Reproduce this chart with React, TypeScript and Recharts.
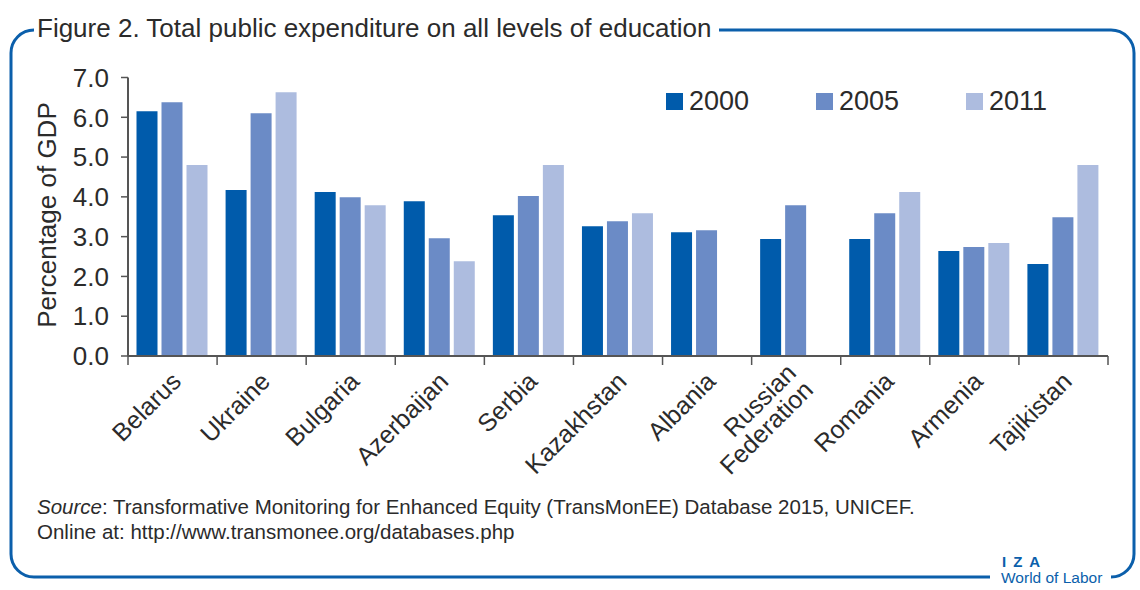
import React from "react";
import { BarChart, Bar, XAxis, YAxis, Legend } from "recharts";

const countries = [
  "Belarus",
  "Ukraine",
  "Bulgaria",
  "Azerbaijan",
  "Serbia",
  "Kazakhstan",
  "Albania",
  "Russian\nFederation",
  "Romania",
  "Armenia",
  "Tajikistan",
];
const values2000 = [6.15, 4.17, 4.12, 3.89, 3.54, 3.26, 3.11, 2.94, 2.94, 2.64, 2.31];
const values2005 = [6.38, 6.1, 3.99, 2.96, 4.02, 3.39, 3.16, 3.79, 3.59, 2.74, 3.49];
const values2011: (number | null)[] = [4.8, 6.63, 3.79, 2.38, 4.8, 3.59, null, null, 4.12, 2.84, 4.8];
const seriesNames = ["2000", "2005", "2011"];
const yTicks = [0, 1, 2, 3, 4, 5, 6, 7];

const data = countries.map((c, i) => ({
  country: c,
  y2000: values2000[i],
  y2005: values2005[i],
  y2011: values2011[i],
}));

const FONT = "'Liberation Sans', Arial, sans-serif";
const TEXT = "#2b2b2b";
const AXIS = "#555555";
const FRAME = "#0b5fab";
const COLORS = ["#005bab", "#6b8bc6", "#adbcdf"];

const XTick = (props: any) => {
  const { x, y, payload, index, visibleTicksCount, width } = props;
  const half =
    payload && typeof payload.offset === "number" && payload.offset > 0
      ? payload.offset
      : width / countries.length / 2;
  const lines = String(payload.value).split("\n");
  const lh = 24;
  const n = lines.length;
  return (
    <g>
      <line x1={x - half} x2={x - half} y1={y} y2={y + 9} stroke={AXIS} strokeWidth={1.5} />
      {index === visibleTicksCount - 1 && (
        <line x1={x + half} x2={x + half} y1={y} y2={y + 9} stroke={AXIS} strokeWidth={1.5} />
      )}
      {lines.map((ln, i) => {
        const k = (i - (n - 1) / 2) * lh * 0.7071;
        return (
          <text
            key={i}
            transform={`translate(${x + 10 + k},${y + 27 + k}) rotate(-45)`}
            textAnchor="end"
            fontSize={25}
            fontFamily={FONT}
            fill={TEXT}
          >
            {ln}
          </text>
        );
      })}
    </g>
  );
};

const LegendContent = () => (
  <div style={{ display: "flex", fontFamily: FONT }}>
    {seriesNames.map((s, i) => (
      <div key={s} style={{ display: "flex", alignItems: "center", width: 150 }}>
        <span style={{ display: "inline-block", width: 17, height: 17, background: COLORS[i], marginRight: 6 }} />
        <span style={{ fontSize: 27, color: TEXT, lineHeight: "27px" }}>{s}</span>
      </div>
    ))}
  </div>
);

export default function App() {
  return (
    <div style={{ position: "absolute", left: 0, top: 0, width: 1140, height: 590, background: "#fff" }}>
      <svg width={1140} height={590} style={{ position: "absolute", left: 0, top: 0 }}>
        <path
          d="M 34 30 A 23 23 0 0 0 11 53 L 11 554 A 23 23 0 0 0 34 577 L 990 577"
          fill="none"
          stroke={FRAME}
          strokeWidth={3}
        />
        <path
          d="M 719 30 L 1111 30 A 23 23 0 0 1 1134 53 L 1134 554 A 23 23 0 0 1 1111 577"
          fill="none"
          stroke={FRAME}
          strokeWidth={3}
        />
      </svg>
      <div
        style={{
          position: "absolute",
          left: 37,
          top: 13,
          fontFamily: FONT,
          fontSize: 26,
          color: TEXT,
          whiteSpace: "nowrap",
          lineHeight: "30px",
        }}
      >
        Figure 2. Total public expenditure on all levels of education
      </div>
      <div style={{ position: "absolute", left: 0, top: 0 }}>
        <BarChart
          width={1140}
          height={590}
          data={data}
          margin={{ top: 77.5, right: 32, bottom: 114, left: 68 }}
          barCategoryGap={8.5}
          barGap={4}
        >
          <XAxis
            dataKey="country"
            interval={0}
            height={120}
            tickLine={false}
            tickSize={0}
            tickMargin={0}
            axisLine={{ stroke: AXIS, strokeWidth: 2 }}
            tick={<XTick />}
          />
          <YAxis
            domain={[0, 7]}
            ticks={yTicks}
            width={60}
            tickSize={7}
            tickMargin={12}
            axisLine={{ stroke: AXIS, strokeWidth: 2 }}
            tickLine={{ stroke: AXIS, strokeWidth: 1.5 }}
            tick={{ fontSize: 26, fontFamily: FONT, fill: TEXT }}
            tickFormatter={(v: number) => v.toFixed(1)}
            interval={0}
          />
          <Legend
            verticalAlign="middle"
            align="center"
            layout="horizontal"
            content={<LegendContent />}
            wrapperStyle={{ left: 666, top: 88, width: 460 }}
          />
          <Bar dataKey="y2000" name={seriesNames[0]} fill={COLORS[0]} isAnimationActive={false} />
          <Bar dataKey="y2005" name={seriesNames[1]} fill={COLORS[1]} isAnimationActive={false} />
          <Bar dataKey="y2011" name={seriesNames[2]} fill={COLORS[2]} isAnimationActive={false} />
        </BarChart>
      </div>
      <div
        style={{
          position: "absolute",
          left: 47,
          top: 215,
          transform: "translate(-50%, -50%) rotate(-90deg)",
          fontFamily: FONT,
          fontSize: 26,
          color: TEXT,
          whiteSpace: "nowrap",
        }}
      >
        Percentage of GDP
      </div>
      <div
        style={{
          position: "absolute",
          left: 37,
          top: 494,
          fontFamily: FONT,
          fontSize: 20.5,
          color: TEXT,
          lineHeight: "25px",
          whiteSpace: "nowrap",
        }}
      >
        <div>
          <i>Source</i>: Transformative Monitoring for Enhanced Equity (TransMonEE) Database 2015, UNICEF.
        </div>
        <div>Online at: http://www.transmonee.org/databases.php</div>
      </div>
      <div
        style={{
          position: "absolute",
          left: 1001,
          top: 554,
          fontFamily: FONT,
          color: FRAME,
          whiteSpace: "nowrap",
        }}
      >
        <div style={{ fontSize: 15, fontWeight: "bold", letterSpacing: 7, lineHeight: "15px", marginLeft: 1 }}>IZA</div>
        <div style={{ fontSize: 15.5, lineHeight: "17px" }}>World of Labor</div>
      </div>
    </div>
  );
}
